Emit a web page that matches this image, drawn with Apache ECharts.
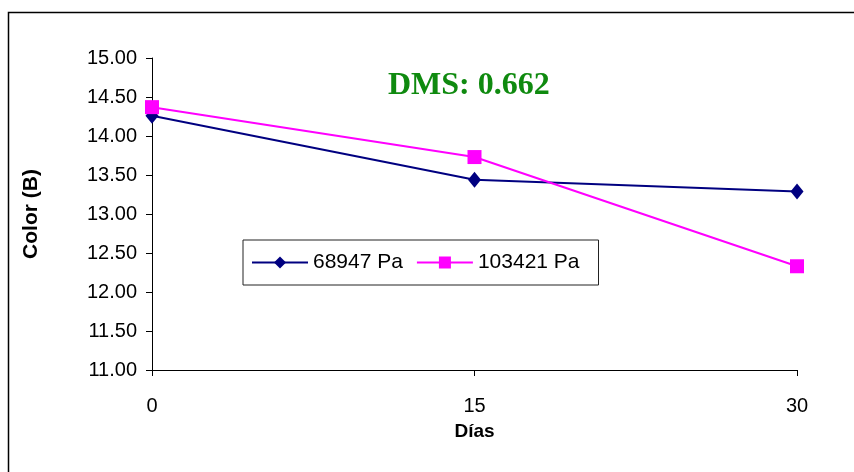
<!DOCTYPE html>
<html>
<head>
<meta charset="utf-8">
<script src="https://cdn.jsdelivr.net/npm/echarts@6/dist/echarts.min.js"></script>
<style>
  html, body { margin: 0; padding: 0; background: #fff; }
  #main { width: 854px; height: 472px; }
</style>
</head>
<body>
<div id="main"></div>
<script>
var dias = ['0', '15', '30'];
var pa68947 = [14.26, 13.44, 13.29];
var pa103421 = [14.37, 13.73, 12.33];
var yTicks = { min: 11, max: 15, step: 0.5 };

var myChart = echarts.init(document.getElementById('main'));

var option = {
  backgroundColor: '#fff',
  animation: false,
  graphic: [
    {
      type: 'rect',
      shape: { x: 8.5, y: 12.5, width: 860, height: 470 },
      style: { fill: 'none', stroke: '#000', lineWidth: 1.5 },
      silent: true
    },
    {
      type: 'text',
      left: 388,
      top: 70,
      style: {
        text: 'DMS: 0.662',
        fill: '#0f8a0f',
        font: 'bold 32px "Liberation Serif", "Times New Roman", serif'
      }
    }
  ],
  legend: {
    left: 243,
    top: 240,
    padding: [12, 19, 12, 8],
    borderColor: '#222',
    borderWidth: 1,
    itemGap: 13,
    itemWidth: 56,
    itemHeight: 15,
    textStyle: { fontFamily: 'Liberation Sans, Arial', fontSize: 21, color: '#000' },
    data: ['68947 Pa', '103421 Pa']
  },
  grid: { left: 152, top: 58, right: 57, bottom: 102, containLabel: false },
  xAxis: {
    type: 'category',
    boundaryGap: false,
    data: dias,
    name: 'Días',
    nameLocation: 'middle',
    nameGap: 52,
    nameTextStyle: { fontFamily: 'Liberation Sans, Arial', fontSize: 19, fontWeight: 'bold', color: '#000' },
    axisLine: { lineStyle: { color: '#000', width: 1 } },
    axisTick: { inside: false, length: 6, lineStyle: { color: '#000' } },
    axisLabel: { fontFamily: 'Liberation Sans, Arial', fontSize: 20, color: '#000', margin: 26 },
    splitLine: { show: false }
  },
  yAxis: {
    type: 'value',
    min: yTicks.min,
    max: yTicks.max,
    interval: yTicks.step,
    name: 'Color (B)',
    nameLocation: 'middle',
    nameRotate: 90,
    nameGap: 110,
    nameTextStyle: { fontFamily: 'Liberation Sans, Arial', fontSize: 21, fontWeight: 'bold', color: '#000' },
    axisLine: { show: true, lineStyle: { color: '#000', width: 1 } },
    axisTick: { show: true, length: 6, lineStyle: { color: '#000' } },
    axisLabel: {
      fontFamily: 'Liberation Sans, Arial',
      fontSize: 20,
      color: '#000',
      margin: 15,
      formatter: function (v) { return v.toFixed(2); }
    },
    splitLine: { show: false }
  },
  series: [
    {
      name: '68947 Pa',
      type: 'line',
      data: pa68947,
      color: '#000080',
      symbol: 'diamond',
      symbolSize: [13, 16],
      lineStyle: { width: 2, color: '#000080' },
      itemStyle: { color: '#000080' }
    },
    {
      name: '103421 Pa',
      type: 'line',
      data: pa103421,
      color: '#ff00ff',
      symbol: 'rect',
      symbolSize: 14,
      lineStyle: { width: 2, color: '#ff00ff' },
      itemStyle: { color: '#ff00ff' }
    }
  ]
};
myChart.setOption(option);
</script>
</body>
</html>
